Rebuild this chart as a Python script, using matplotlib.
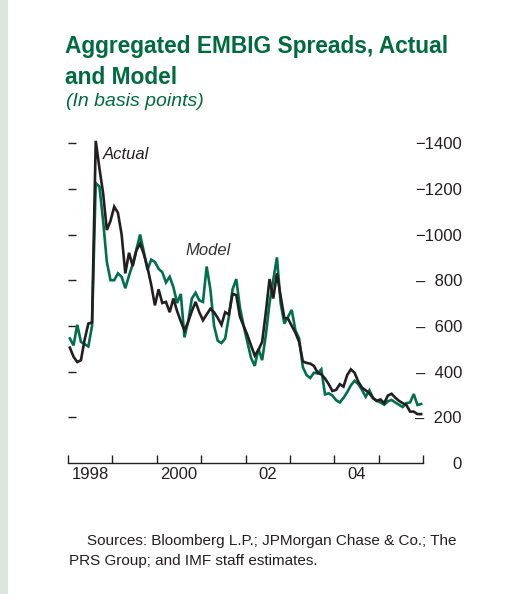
import matplotlib
matplotlib.use("Agg")
import matplotlib.pyplot as plt
import numpy as np

plt.rcParams['font.family'] = ['Liberation Sans', 'DejaVu Sans']

# ---- data (monthly, Jan 1998 - Dec 2005), basis points ----
actual = [505, 465, 442, 450, 540, 610, 615, 1410, 1290, 1180, 1020, 1060,
          1122, 1095, 1000, 830, 920, 862, 930, 960, 915, 855, 780, 690,
          760, 700, 705, 660, 720, 665, 620, 580, 618, 665, 705, 660,
          625, 650, 675, 660, 635, 605, 660, 650, 740, 735, 640, 600,
          560, 515, 470, 495, 530, 660, 805, 720, 830, 730, 635, 632,
          600, 570, 530, 445, 438, 435, 425, 395, 388, 370, 345, 315,
          320, 345, 334, 385, 410, 395, 356, 330, 318, 305, 283, 272,
          278, 262, 295, 303, 286, 272, 262, 254, 225, 225, 214, 214]
model = [545, 515, 605, 530, 520, 510, 600, 1225, 1210, 1060, 880, 800,
         800, 830, 815, 765, 820, 870, 935, 1000, 925, 845, 890, 880,
         850, 835, 790, 815, 770, 700, 740, 550, 620, 720, 745, 712,
         705, 860, 760, 600, 535, 525, 545, 640, 760, 805, 680, 600,
         530, 460, 425, 500, 450, 560, 700, 800, 900, 700, 610, 640,
         670, 580, 545, 420, 385, 372, 395, 392, 410, 300, 305, 295,
         275, 265, 285, 310, 340, 360, 345, 320, 290, 318, 285, 272,
         265, 255, 270, 276, 265, 255, 245, 262, 265, 302, 254, 258]
start_year = 1998
year_ticks = list(range(1998, 2007))
year_labels = ["1998", "2000", "02", "04"]
year_label_pos = [1998.5, 2000.5, 2002.5, 2004.5]
y_ticks = [0, 200, 400, 600, 800, 1000, 1200, 1400]
y_labels = ["0", "–  200", "–  400", "–  600", "–  800", "−1000", "−1200", "−1400"]

dates = start_year + (np.arange(len(actual)) + 0.5) / 12.0

GREEN = "#00704a"
BLACK = "#231f20"
TITLE_GREEN = "#006b3f"

fig = plt.figure(figsize=(5.15, 5.94), dpi=100)
fig.patch.set_facecolor("white")
# left decorative strip
fig.add_artist(plt.Rectangle((0, 0), 7.5 / 515, 1, transform=fig.transFigure,
                             color="#dce6e0", lw=0))

ax = fig.add_axes([68 / 515, 131 / 594, 355 / 515, 331.3 / 594])
ax.plot(dates, model, color=GREEN, lw=1.9, solid_joinstyle="miter")
ax.plot(dates, actual, color=BLACK, lw=1.9, solid_joinstyle="miter")

ax.set_xlim(1998, 2006)
ax.set_ylim(0, 1450)
for s in ["top", "right", "left"]:
    ax.spines[s].set_visible(False)
ax.spines["bottom"].set_color(BLACK)
ax.spines["bottom"].set_linewidth(1.0)

ax.set_xticks(year_ticks)
ax.set_xticklabels([""] * len(year_ticks))
ax.set_xticks(year_label_pos, minor=True)
ax.set_xticklabels(year_labels, minor=True, fontsize=12, color=BLACK)
ax.tick_params(axis="x", which="major", direction="in", length=6, width=1.0, color=BLACK)
ax.tick_params(axis="x", which="minor", length=0, pad=3)

ax.set_yticks(y_ticks)
ax.set_yticklabels(y_labels, fontsize=12, color=BLACK)
ax.tick_params(axis="y", left=True, right=False, labelleft=False, labelright=True,
               direction="in", length=6, width=1.0, color=BLACK, pad=28)
for lbl in ax.get_yticklabels():
    lbl.set_horizontalalignment("right")
# hide left tick at zero (axis line is there)
ax.yaxis.get_major_ticks()[0].tick1line.set_visible(False)

ax.text(1998.78, 1330, "Actual", style="italic", fontsize=12, color=BLACK)
ax.text(2000.65, 910, "Model", style="italic", fontsize=12, color="#333333")

fig.text(65 / 515, 1 - 53 / 594, "Aggregated EMBIG Spreads, Actual", fontsize=16.4,
         fontweight="bold", color=TITLE_GREEN, va="baseline")
fig.text(65 / 515, 1 - 84 / 594, "and Model", fontsize=16.4,
         fontweight="bold", color=TITLE_GREEN, va="baseline")
fig.text(66 / 515, 1 - 106 / 594, "(In basis points)", fontsize=14, style="italic",
         color=TITLE_GREEN, va="baseline")

fig.text(87 / 515, 1 - 545 / 594, "Sources: Bloomberg L.P.; JPMorgan Chase & Co.; The",
         fontsize=11, color="#231f20", va="baseline")
fig.text(69 / 515, 1 - 565 / 594, "PRS Group; and IMF staff estimates.",
         fontsize=11, color="#231f20", va="baseline")

fig.savefig("out.png", dpi=100, facecolor="white")
